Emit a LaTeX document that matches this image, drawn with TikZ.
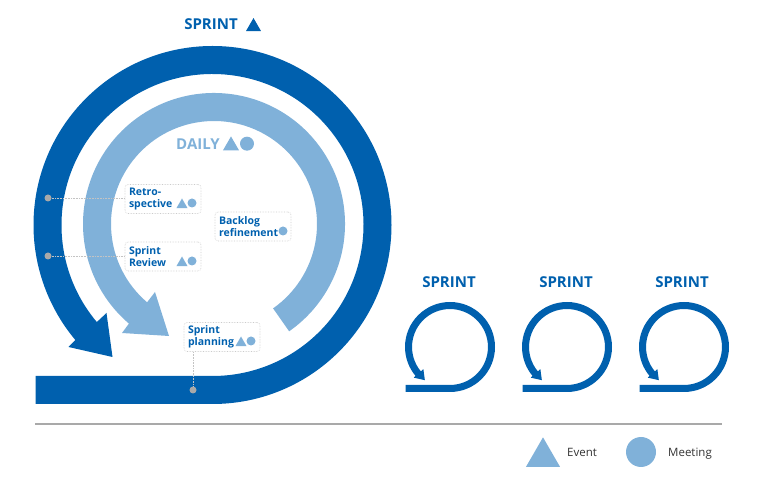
\documentclass[tikz,border=0pt]{standalone}
\usepackage{fontspec}
\setmainfont{Open Sans}
\usetikzlibrary{shapes.geometric}
\definecolor{sprintblue}{HTML}{0060AE}
\definecolor{dailyblue}{HTML}{80B1D9}
\definecolor{dotgray}{HTML}{A9A9A9}

% outline of the sprint loop, centre at the origin
\newcommand{\sprintoutline}{(-177,-179) -- (0,-179) arc[start angle=270, end angle=580, radius=179]
  -- (-144,-122) -- (-100,-132) -- (-106,-88) -- (220:151)
  arc[start angle=580, end angle=270, radius=151] -- (-177,-151) -- cycle}

\begin{document}
\begin{tikzpicture}[
  x=1pt, y=1pt,
  % Node styles
  title/.style    = {font=\fontsize{15}{18}\selectfont\bfseries, text=sprintblue, inner sep=0pt},
  activity/.style = {rectangle, draw=dotgray!60, densely dotted, semithick, rounded corners=3pt,
                     minimum width=76pt, minimum height=29pt, text width=68pt, inner xsep=4pt,
                     inner ysep=0pt, align=left, text=sprintblue,
                     font=\fontsize{10.5}{12}\selectfont\bfseries},
  tri/.style      = {regular polygon, regular polygon sides=3, fill=dailyblue,
                     inner sep=0pt, minimum size=13pt},
  disc/.style     = {circle, fill=dailyblue, inner sep=0pt, minimum size=9pt},
  pin/.style      = {circle, fill=dotgray, inner sep=0pt, minimum size=7pt},
  legend/.style   = {font=\fontsize{11.5}{14}\selectfont, text=black!80, inner sep=0pt},
  % Line styles
  leader/.style   = {draw=dotgray!70, densely dotted, semithick}
]
\useasboundingbox (0,0) rectangle (757,492);

% =========================== MAIN SPRINT LOOP ===========================
\fill[sprintblue, shift={(212.5,267)}] \sprintoutline;
\node[title] (SprintT) at (211,468) {SPRINT};
\node[tri, fill=sprintblue, minimum size=17.3pt] (SprintTri) at (253.5,465.3) {};

% =========================== DAILY LOOP ===========================
\fill[dailyblue, shift={(214,268)}] (-55:131) arc[start angle=-55, end angle=229.5, radius=131]
  -- (-92,-109) -- (-45,-112) -- (-59,-68) -- (229.5:103)
  arc[start angle=229.5, end angle=-55, radius=103] -- cycle;
\node[title, text=dailyblue] (DailyT) at (198,348) {DAILY};
\node[tri, minimum size=18.5pt] (DailyTri) at (231,346.3) {};
\node[disc, minimum size=14pt] (DailyDot) at (247,348.3) {};

% =========================== ACTIVITIES ===========================
\node[activity] (Retro)   at (163,293) {Retro-\\spective};
\node[activity] (Backlog) at (253,265.5) {Backlog\\refinement};
\node[activity] (Review)  at (163,235.5) {Sprint\\Review};
\node[activity] (Plan)    at (222,155) {Sprint\\planning};

\node[tri]  (RetroTri)  at (182,287) {};
\node[disc] (RetroDot)  at (192,289) {};
\node[disc] (BackDot)   at (283,261) {};
\node[tri]  (ReviewTri) at (182,229) {};
\node[disc] (ReviewDot) at (192,231) {};
\node[tri]  (PlanTri)   at (241,149) {};
\node[disc] (PlanDot)   at (251,151) {};

% leaders from the main loop to the activities
\node[pin] (RetroPin)  at (48,294) {};
\node[pin] (ReviewPin) at (48,236) {};
\node[pin] (PlanPin)   at (193,102) {};
\draw[leader] (RetroPin)  -- (Retro.west |- RetroPin);
\draw[leader] (ReviewPin) -- (Review.west |- ReviewPin);
\draw[leader] (PlanPin)   -- (PlanPin |- Plan.south);

% =========================== SMALL SPRINTS ===========================
\begin{scope}[shift={(450,145)}, scale=0.2514]
  \fill[sprintblue] \sprintoutline;
\end{scope}
\begin{scope}[shift={(567,145)}, scale=0.2514]
  \fill[sprintblue] \sprintoutline;
\end{scope}
\begin{scope}[shift={(684,145)}, scale=0.2514]
  \fill[sprintblue] \sprintoutline;
\end{scope}
\node[title] (SprintA) at (449,210) {SPRINT};
\node[title] (SprintB) at (566,210) {SPRINT};
\node[title] (SprintC) at (682,210) {SPRINT};

% =========================== LEGEND ===========================
\coordinate (RuleL) at (35,68);
\coordinate (RuleR) at (722,68);
\draw[dotgray, line width=1.6pt] (RuleL) -- (RuleR);
\node[tri, minimum size=39.3pt] (EventTri) at (543,35) {};
\node[legend, anchor=base west] (EventT) at (567,35) {Event};
\node[disc, minimum size=30pt] (MeetDot) at (641,40) {};
\node[legend, anchor=base west] (MeetT) at (668,35) {Meeting};

\end{tikzpicture}
\end{document}
